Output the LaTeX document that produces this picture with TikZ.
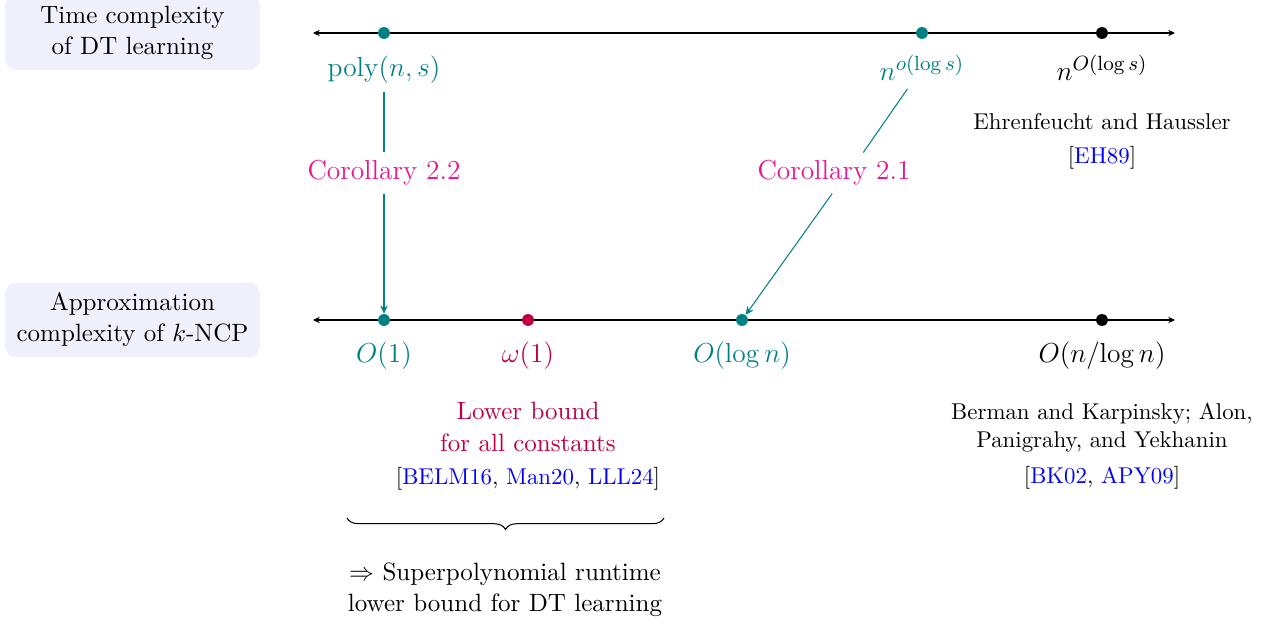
\documentclass[tikz,border=0pt]{standalone}
\usetikzlibrary{decorations.pathreplacing,arrows.meta}
\definecolor{boxfill}{RGB}{240,240,252}
\definecolor{corcol}{RGB}{236,20,140}
\definecolor{lbcol}{RGB}{191,0,64}
\definecolor{citecol}{RGB}{0,0,255}
\newcommand{\supsz}[1]{\hbox{\fontsize{9}{11}\selectfont$#1$}}
\begin{document}
\begin{tikzpicture}[x=0.4375pt,y=-0.4375pt,
  fn/.style={font=\fontsize{10.95}{13.6}\selectfont},
  fl/.style={font=\fontsize{12}{14.5}\selectfont},
  fs/.style={font=\fontsize{10}{12.4}\selectfont},
  catbox/.style={fn, fill=boxfill, rounded corners=5pt, minimum width=111.5pt, minimum height=32.8pt, align=center, inner sep=0pt},
  mdot/.style={circle, fill=#1, inner sep=0pt, minimum size=5.2pt},
  axisline/.style={{Stealth[length=3pt,width=2.8pt,inset=1pt]}-{Stealth[length=3pt,width=2.8pt,inset=1pt]}, line width=0.45pt},
  link/.style={teal, line width=0.45pt},
  linkarrow/.style={link, -{Stealth[length=3.6pt,width=3.4pt,inset=1.2pt]}}]
\useasboundingbox (0,0) rectangle (1278,628);
% category boxes
\node[catbox] (b1) at (132.5,32.5) {Time complexity\\of DT learning};
\node[catbox] (b2) at (132.5,320) {Approximation\\complexity of $k$-NCP};
% axes
\coordinate (tl) at (313,33); \coordinate (tr) at (1175,33);
\coordinate (bl) at (313,320); \coordinate (br) at (1175,320);
\draw[axisline] (tl) -- (tr);
\draw[axisline] (bl) -- (br);
% top dots and labels
\node[mdot=teal] (dpoly) at (384,33) {};
\node[mdot=teal] (dno) at (922,33) {};
\node[mdot=black] (dnO) at (1102,33) {};
\node[fl, text=teal] (poly) at (384,70) {$\mathrm{poly}(n,s)$};
\node[fl, text=teal] (no) at (922,68) {$n^{\supsz{o(\log s)}}$};
\node[fl] (nO) at (1102,68) {$n^{\supsz{O(\log s)}}$};
\node[fs] (eh) at (1102,122) {Ehrenfeucht and Haussler};
\node[fs] (ehc) at (1102,158) {[\textcolor{citecol}{EH89}]};
% bottom dots and labels
\node[mdot=teal] (d1) at (384,320) {};
\node[mdot=lbcol] (dw) at (528,320) {};
\node[mdot=teal] (dlog) at (742,320) {};
\node[mdot=black] (dnl) at (1102,320) {};
\node[fl, text=teal] (o1) at (384,356) {$O(1)$};
\node[fl, text=lbcol] (w1) at (528,356) {$\omega(1)$};
\node[fl, text=teal] (olog) at (742,356) {$O(\log n)$};
\node[fl] (onl) at (1102,356) {$O(n/{\log n})$};
\node[fn, text=lbcol, align=center] (lb) at (528,427) {Lower bound\\for all constants};
\node[fs] (lbc) at (528,479) {[\textcolor{citecol}{BELM16}, \textcolor{citecol}{Man20}, \textcolor{citecol}{LLL24}]};
\node[fs, align=center] (bk) at (1102,428) {Berman and Karpinsky; Alon,\\Panigrahy, and Yekhanin};
\node[fs] (bkc) at (1102,478) {[\textcolor{citecol}{BK02}, \textcolor{citecol}{APY09}]};
% corollaries
\node[fl, text=corcol] (c22) at (384,173) {Corollary 2.2};
\node[fl, text=corcol] (c21) at (834,173) {Corollary 2.1};
\draw[link] (poly) -- (c22);
\draw[linkarrow] (c22) -- (d1);
\draw[link] (no) -- (c21.35);
\draw[linkarrow] (c21.265) -- (dlog);
% brace and conclusion
\coordinate (brl) at (347,518); \coordinate (brr) at (664,518);
\draw[decorate, decoration={brace, mirror, amplitude=5pt}, line width=0.45pt] (brl) -- (brr);
\node[fn, align=center] (concl) at (505,590) {$\Rightarrow$ Superpolynomial runtime\\lower bound for DT learning};
\end{tikzpicture}
\end{document}
